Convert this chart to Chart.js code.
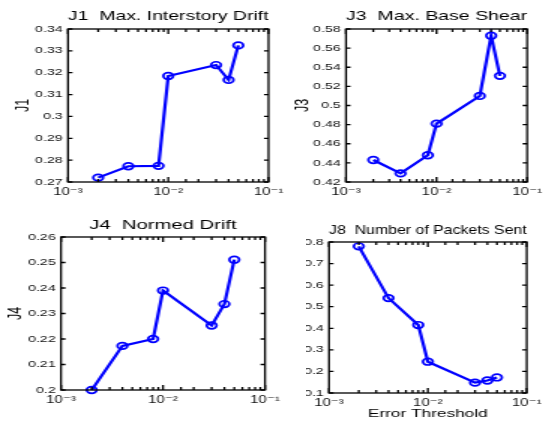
<!DOCTYPE html>
<html>
<head>
<meta charset="utf-8">
<script src="https://cdn.jsdelivr.net/npm/chart.js@4.4.1/dist/chart.umd.min.js"></script>
<style>
  body { margin: 0; background: #fff; }
  #wrap { position: relative; width: 548px; height: 421px; overflow: hidden; background: #fff; }
  .pane { position: absolute; transform-origin: 0 0; }
  canvas { display: block; }
</style>
</head>
<body>
<div id="wrap">
  <div class="pane" id="p1"><canvas id="c1"></canvas></div>
  <div class="pane" id="p2"><canvas id="c2"></canvas></div>
  <div class="pane" id="p3"><canvas id="c3"></canvas></div>
  <div class="pane" id="p4"><canvas id="c4"></canvas></div>
</div>
<script>
// the picture is stretched sideways, so every pane is drawn narrow and scaled in x
const SX = 1.5;

const thresholds = [0.002, 0.004, 0.008, 0.01, 0.03, 0.04, 0.05];
const j1 = [0.2720, 0.2772, 0.2774, 0.3185, 0.3235, 0.3167, 0.3325];
const j3 = [0.443, 0.429, 0.448, 0.481, 0.510, 0.573, 0.531];
const j4 = [0.2000, 0.2173, 0.2200, 0.2390, 0.2253, 0.2337, 0.2511];
const j8 = [0.780, 0.540, 0.415, 0.245, 0.148, 0.158, 0.172];

const xMajor = [0.001, 0.01, 0.1];
const xMajorLabels = ['10\u207B\u00B3', '10\u207B\u00B2', '10\u207B\u00B9'];

const j1Range = [0.27, 0.34, 0.01];
const j3Range = [0.42, 0.58, 0.02];
const j4Range = [0.20, 0.26, 0.01];
const j8Range = [0.1, 0.8, 0.1];

const FONT = "'Liberation Sans', 'DejaVu Sans', Arial, sans-serif";

const frame = {
  id: 'frame',
  afterDraw(chart) {
    const {ctx, chartArea: a, scales: {x, y}} = chart;
    ctx.save();
    ctx.strokeStyle = '#000';
    ctx.lineWidth = 1.3;
    ctx.strokeRect(a.left, a.top, a.right - a.left, a.bottom - a.top);
    ctx.beginPath();
    y.ticks.forEach(t => {
      const p = y.getPixelForValue(t.value);
      ctx.moveTo(a.left, p); ctx.lineTo(a.left + 3, p);
      ctx.moveTo(a.right, p); ctx.lineTo(a.right - 3, p);
    });
    x.ticks.forEach(t => {
      const p = x.getPixelForValue(t.value);
      const lg = Math.log10(t.value);
      const len = Math.abs(lg - Math.round(lg)) < 1e-6 ? 5 : 3;
      ctx.moveTo(p, a.bottom); ctx.lineTo(p, a.bottom - len);
      ctx.moveTo(p, a.top); ctx.lineTo(p, a.top + len);
    });
    ctx.stroke();
    ctx.restore();
  }
};

function panel(n, box, plot, title, titleY, values, range, yTitle, yTitleX, xTitle) {
  const pane = document.getElementById('p' + n);
  pane.style.left = box.x + 'px';
  pane.style.top = box.y + 'px';
  pane.style.transform = 'scaleX(' + SX + ')';
  const cv = document.getElementById('c' + n);
  cv.width = Math.round(box.w / SX);
  cv.height = box.h;

  const titleSize = 13.5;
  const titleLH = titleSize * 1.2;
  const tPadTop = titleY - box.y - titleLH / 2;
  const tPadBottom = (plot.t - box.y) - tPadTop - titleLH;
  const yAxisW = (plot.l - box.x) / SX;
  const xAxisH = box.y + box.h - plot.b;

  return new Chart(cv, {
    type: 'line',
    data: {
      datasets: [{
        data: thresholds.map((t, i) => ({x: t, y: values[i]})),
        borderColor: 'rgb(0,0,255)',
        borderWidth: 2.2,
        pointStyle: 'circle',
        pointRadius: 3.3,
        pointBorderWidth: 1.7,
        pointBorderColor: 'rgb(0,0,255)',
        pointBackgroundColor: 'rgba(0,0,0,0)',
        tension: 0,
        clip: false
      }]
    },
    options: {
      responsive: false,
      animation: false,
      devicePixelRatio: 1,
      layout: { padding: { left: 0, top: 0, bottom: 0, right: (box.x + box.w - plot.r) / SX } },
      plugins: {
        legend: { display: false },
        tooltip: { enabled: false },
        title: {
          display: true,
          text: title,
          fullSize: false,
          color: '#000',
          font: { family: FONT, size: titleSize, weight: 'normal' },
          padding: { top: tPadTop, bottom: tPadBottom }
        }
      },
      scales: {
        x: {
          type: 'logarithmic',
          min: 0.001,
          max: 0.1,
          border: { display: false },
          grid: { display: false, drawTicks: false },
          afterFit: s => { s.height = xAxisH; },
          ticks: {
            autoSkip: false,
            maxRotation: 0,
            padding: 4,
            color: '#111',
            font: { family: FONT, size: 10 },
            callback: v => {
              const i = xMajor.findIndex(m => Math.abs(m - v) / m < 1e-6);
              return i >= 0 ? xMajorLabels[i] : '';
            }
          },
          title: {
            display: !!xTitle,
            text: xTitle || '',
            color: '#000',
            font: { family: FONT, size: 11.5 },
            padding: { top: 0, bottom: 0 }
          }
        },
        y: {
          min: range[0],
          max: range[1],
          border: { display: false },
          grid: { display: false, drawTicks: false },
          afterFit: s => { s.width = yAxisW; },
          ticks: {
            stepSize: range[2],
            padding: 3.5,
            color: '#111',
            font: { family: FONT, size: 9.5 },
            callback: v => String(+v.toFixed(3))
          },
          title: {
            display: !!yTitle,
            text: yTitle || '',
            color: '#000',
            font: { family: FONT, size: 12.5 },
            padding: { top: yTitle ? (yTitleX - box.x) / SX - 7.5 : 0, bottom: 0 }
          }
        }
      }
    },
    plugins: [frame]
  });
}

panel(1, {x: 0, y: 0, w: 290, h: 210}, {l: 68, t: 29, r: 269, b: 182},
  'J1  Max. Interstory Drift', 16, j1, j1Range, 'J1', 24);
panel(2, {x: 290, y: 0, w: 258, h: 210}, {l: 346, t: 29, r: 537, b: 182},
  'J3  Max. Base Shear', 16, j3, j3Range, 'J3', 303);
panel(3, {x: 0, y: 210, w: 306, h: 211}, {l: 61, t: 237, r: 265, b: 390},
  'J4  Normed Drift', 225, j4, j4Range, 'J4', 16);
panel(4, {x: 306, y: 210, w: 242, h: 211}, {l: 329, t: 242, r: 530, b: 393},
  'J8  Number of Packets Sent', 230, j8, j8Range, null, 0, 'Error Threshold');
</script>
</body>
</html>
